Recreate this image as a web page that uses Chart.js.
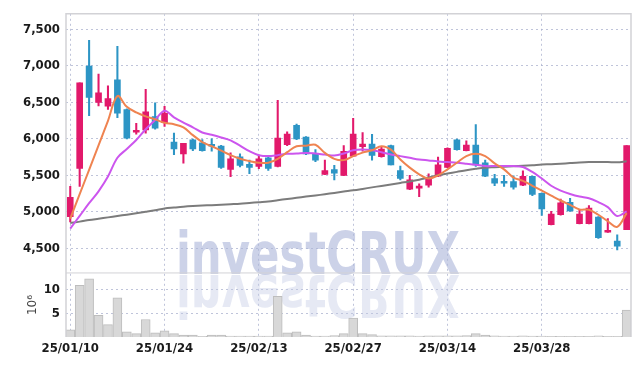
<!DOCTYPE html>
<html>
<head>
<meta charset="utf-8">
<script src="https://cdn.jsdelivr.net/npm/chart.js@4.4.1/dist/chart.umd.min.js"></script>
<style>
  html, body { margin: 0; padding: 0; background: #fff; }
  #wrap { width: 639px; height: 366px; }
</style>
</head>
<body>
<div id="wrap"><canvas id="chart"></canvas></div>
<script>
// trading days, 25/01/10 .. 25/04/10
const dates = [
  '25/01/10','25/01/13','25/01/14','25/01/15','25/01/16','25/01/17','25/01/20','25/01/21','25/01/22','25/01/23',
  '25/01/24','25/01/31','25/02/03','25/02/04','25/02/05','25/02/06','25/02/07','25/02/10','25/02/11','25/02/12',
  '25/02/13','25/02/14','25/02/17','25/02/18','25/02/19','25/02/20','25/02/21','25/02/24','25/02/25','25/02/26',
  '25/02/27','25/02/28','25/03/04','25/03/05','25/03/06','25/03/07','25/03/10','25/03/11','25/03/12','25/03/13',
  '25/03/14','25/03/17','25/03/18','25/03/19','25/03/20','25/03/21','25/03/24','25/03/25','25/03/26','25/03/27',
  '25/03/28','25/03/31','25/04/01','25/04/02','25/04/03','25/04/04','25/04/07','25/04/08','25/04/09','25/04/10'
];
const xTickIdx = [0, 10, 20, 30, 40, 50];

const opens  = [4933,5595,6996,6500,6446,6807,6402,6090,6122,6303, 6222,5956,5794,5987,5945,5920,5902,5582,5753,5649,
                5622,5740,5622,5919,6185,6023,5790,5514,5578,5500, 5763,5893,5929,5757,5906,5564,5311,5325,5365,5487,
                5609,5987,5838,5915,5672,5456,5415,5415,5365,5487, 5253,4825,4960,5131,4839,4839,4928,4720,4601,4757];
const highs  = [5348,6766,7347,6888,6726,7266,6410,6211,6676,6492, 6446,6077,5938,5995,5990,6000,5910,5807,5794,5708,
                5776,5770,6527,6095,6203,6030,5852,5708,5636,5906, 6280,6087,6060,5898,5915,5627,5500,5384,5519,5749,
                5875,5995,5974,6195,5708,5514,5500,5493,5560,5490, 5260,5006,5176,5186,5020,5087,4935,4906,4686,5906];
const lows   = [4862,5348,6317,6452,6402,6290,6000,6064,6077,6131, 6168,5784,5668,5838,5830,5830,5595,5483,5614,5523,
                5591,5568,5615,5906,5987,5784,5686,5510,5438,5495, 5760,5830,5708,5750,5641,5438,5305,5209,5338,5480,
                5605,5845,5835,5623,5480,5357,5348,5311,5360,5222, 4952,4820,4955,5005,4835,4835,4636,4718,4479,4757];
const closes = [5199,6766,6568,6631,6550,6352,6010,6112,6371,6145, 6348,5861,5938,5861,5838,5898,5609,5726,5636,5609,
                5726,5595,6010,6064,5999,5794,5708,5564,5528,5830, 6064,5929,5772,5861,5641,5456,5438,5347,5465,5645,
                5870,5852,5915,5641,5487,5392,5392,5338,5487,5240, 5041,4969,5122,5014,4969,5051,4645,4742,4530,5906];

// volume, x 10^6
const volumes = [1.5,10.9,12.3,4.6,2.6,8.3,1.1,0.7,3.7,0.9, 1.3,0.7,0.4,0.4,0.15,0.4,0.4,0.2,0.2,0.2,
                 0.2,0.2,8.6,0.9,1.1,0.4,0.2,0.2,0.3,0.7, 4.0,0.7,0.5,0.25,0.25,0.25,0.25,0.2,0.25,0.25,
                 0.25,0.25,0.3,0.7,0.4,0.25,0.2,0.2,0.25,0.2, 0.2,0.15,0.15,0.15,0.15,0.15,0.25,0.15,0.15,5.7];

const ma5  = [4908,5241,5576,5911,6246,6585,6438,6361,6307,6266, 6219,6199,6158,6050,5956,5898,5838,5776,5726,5695,
              5672,5672,5726,5817,5898,5906,5919,5807,5726,5708, 5763,5811,5843,5898,5852,5717,5605,5514,5456,5500,
              5582,5672,5763,5794,5763,5663,5582,5469,5425,5357, 5290,5222,5155,5095,5033,5028,4960,4871,4794,4983];
const ma20 = [4771,4944,5118,5281,5484,5740,5861,5983,6131,6258, 6384,6294,6222,6158,6087,6055,6019,5979,5906,5830,
              5776,5763,5776,5794,5798,5807,5798,5784,5771,5798, 5843,5852,5843,5817,5784,5763,5740,5717,5704,5690,
              5681,5672,5659,5645,5627,5627,5627,5627,5614,5546, 5456,5357,5290,5244,5209,5186,5132,5064,4942,5006];
const ma60 = [4848,4866,4888,4906,4924,4943,4961,4980,5000,5021, 5045,5058,5070,5079,5086,5091,5098,5105,5112,5122,
              5132,5142,5159,5176,5192,5209,5224,5241,5259,5277, 5294,5314,5335,5355,5375,5396,5416,5440,5470,5500,
              5524,5547,5570,5589,5605,5612,5619,5625,5632,5639, 5648,5652,5659,5668,5676,5681,5681,5681,5679,5692];

const priceTicks = [4500, 5000, 5500, 6000, 6500, 7000, 7500];
const volTicks = [5, 10];

const RED = '#e2196b';
const BLUE = '#2d95c5';
const GRID = 'rgba(170,176,205,0.75)';
const FONT = "'DejaVu Sans Condensed', 'Liberation Sans Narrow', 'DejaVu Sans', sans-serif";
const TICK_FONT = { family: FONT, size: 13, weight: 'bold' };

const candleColor = opens.map((o, i) => closes[i] >= o ? RED : BLUE);
const xy = arr => arr.map((v, i) => ({ x: i, y: v }));

// big "investCRUX" watermark with its mirrored reflection
const watermark = {
    id: 'watermark',
    beforeDatasetsDraw(chart) {
        const { ctx } = chart;
        const txt = 'investCRUX';
        ctx.save();
        ctx.font = "bold 58px 'Liberation Sans Narrow', 'DejaVu Sans Condensed', sans-serif";
        const sx = 284 / ctx.measureText(txt).width;
        const x0 = 176, base = 274;
        ctx.setTransform(sx, 0, 0, 1, x0, base);
        ctx.fillStyle = 'rgba(172,182,218,0.62)';
        ctx.fillText(txt, 0, 0);
        ctx.setTransform(sx, 0, 0, -1, x0, base + 1);
        ctx.fillStyle = 'rgba(196,202,228,0.42)';
        ctx.fillText(txt, 0, 0);
        ctx.restore();
    }
};

const frame = {
    id: 'frame',
    afterDraw(chart) {
        const { ctx, chartArea: a } = chart;
        const sep = chart.scales.y.bottom;
        ctx.save();
        ctx.strokeStyle = '#d2d2d6';
        ctx.lineWidth = 1.5;
        ctx.beginPath();
        ctx.moveTo(a.left, a.bottom);
        ctx.lineTo(a.left, a.top);
        ctx.lineTo(a.right, a.top);
        ctx.lineTo(a.right, a.bottom);
        ctx.stroke();
        ctx.lineWidth = 1;
        ctx.beginPath();
        ctx.moveTo(a.left, sep);
        ctx.lineTo(a.right, sep);
        ctx.stroke();
        ctx.restore();
    }
};

new Chart(document.getElementById('chart'), {
    type: 'bar',
    data: {
        datasets: [
            { type: 'line', data: xy(ma5), yAxisID: 'y', borderColor: '#ef8350', borderWidth: 2, pointRadius: 0, tension: 0.35 },
            { type: 'line', data: xy(ma20), yAxisID: 'y', borderColor: '#cc55ee', borderWidth: 2, pointRadius: 0, tension: 0.35 },
            { type: 'line', data: xy(ma60), yAxisID: 'y', borderColor: '#7c7c7c', borderWidth: 2, pointRadius: 0, tension: 0.35 },
            {
                data: opens.map((o, i) => ({ x: i, y: [o, closes[i]] })),
                yAxisID: 'y', grouped: false, barThickness: 6, minBarLength: 2,
                backgroundColor: candleColor, borderWidth: 0
            },
            {
                data: lows.map((l, i) => ({ x: i, y: [l, highs[i]] })),
                yAxisID: 'y', grouped: false, barThickness: 1.4,
                backgroundColor: candleColor, borderWidth: 0
            },
            {
                data: xy(volumes),
                yAxisID: 'yVol', grouped: false, barThickness: 9,
                backgroundColor: '#d8d8d8', borderColor: '#bdbdbd', borderWidth: 1
            }
        ]
    },
    options: {
        responsive: true,
        maintainAspectRatio: false,
        animation: false,
        layout: { padding: { top: 9, right: 8, left: 0, bottom: 0 } },
        plugins: { legend: { display: false }, tooltip: { enabled: false } },
        scales: {
            x: {
                type: 'linear', min: -0.45, max: 59.46, offset: false,
                afterBuildTicks: s => { s.ticks = xTickIdx.map(v => ({ value: v })); },
                afterFit: s => { s.height = 29; },
                ticks: {
                    callback: v => dates[v], autoSkip: false, maxRotation: 0, padding: 4,
                    color: '#1a1a1a', font: TICK_FONT
                },
                grid: { color: GRID, drawTicks: false, offset: false },
                border: { display: false, dash: [2, 3] }
            },
            y: {
                position: 'left', stack: 'panes', stackWeight: 263, weight: 1,
                min: 4163, max: 7712,
                afterBuildTicks: s => { s.ticks = priceTicks.map(v => ({ value: v })); },
                afterFit: s => { s.width = 66; },
                ticks: {
                    callback: v => v.toLocaleString('en-US'), padding: 6,
                    color: '#1a1a1a', font: TICK_FONT
                },
                grid: { color: GRID, drawTicks: false },
                border: { display: false, dash: [2, 3] }
            },
            yVol: {
                position: 'left', stack: 'panes', stackWeight: 65, weight: 0,
                min: 0, max: 13.54,
                afterBuildTicks: s => { s.ticks = volTicks.map(v => ({ value: v })); },
                afterFit: s => { s.width = 66; },
                ticks: { padding: 6, color: '#1a1a1a', font: TICK_FONT },
                title: {
                    display: true, text: '10⁶', color: '#444',
                    font: { family: "'DejaVu Sans', sans-serif", size: 12 },
                    padding: { top: 26, bottom: 0 }
                },
                grid: { color: GRID, drawTicks: false },
                border: { display: false, dash: [2, 3] }
            }
        }
    },
    plugins: [watermark, frame]
});
</script>
</body>
</html>
